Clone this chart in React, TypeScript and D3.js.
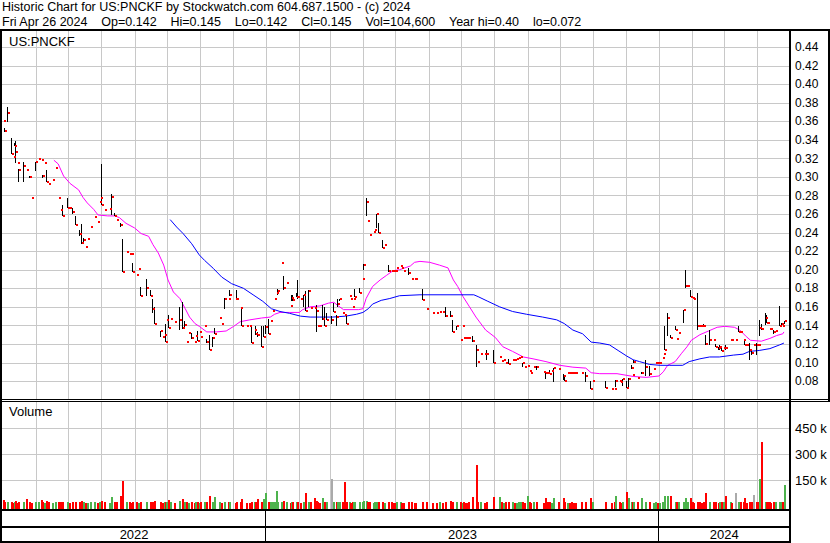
import * as React from "react";
import * as d3 from "d3";

const { useRef, useEffect } = React;

const titleLine = "Historic Chart for US:PNCKF by Stockwatch.com 604.687.1500 - (c) 2024";
const quoteLine = "Fri Apr 26 2024    Op=0.142    Hi=0.145    Lo=0.142    Cl=0.145    Vol=104,600    Year hi=0.40    lo=0.072";
const symbol = "US:PNCKF";
const priceTicks = [0.08, 0.1, 0.12, 0.14, 0.16, 0.18, 0.2, 0.22, 0.24, 0.26, 0.28, 0.3, 0.32, 0.34, 0.36, 0.38, 0.4, 0.42, 0.44];
const volumeTicks = [150000, 300000, 450000];
const volumeTickLabels = ["150 k", "300 k", "450 k"];
const years = ["2022", "2023", "2024"];

// date, high, low, close, volume (thousands)
const bars: [string, number, number, number, number][] = [
  ["2022-05-02", .360, .360, .360, 20], ["2022-05-03", .353, .348, .350, 6], ["2022-05-05", .375, .359, .369, 9],
  ["2022-05-09", .342, .325, .325, 5], ["2022-05-11", .321, .321, .321, 4], ["2022-05-12", .337, .333, .333, 8],
  ["2022-05-13", .339, .315, .327, 12], ["2022-05-15", .315, .315, .315, 3], ["2022-05-16", .309, .295, .308, 7],
  ["2022-05-20", .316, .294, .312, 10], ["2022-05-23", .308, .308, .308, 25], ["2022-05-26", .301, .299, .300, 6],
  ["2022-05-28", .277, .277, .277, 4], ["2022-05-31", .316, .306, .316, 9], ["2022-06-03", .319, .319, .319, 5],
  ["2022-06-06", .318, .318, .318, 20], ["2022-06-07", .302, .299, .301, 7], ["2022-06-09", .315, .315, .315, 4],
  ["2022-06-11", .308, .294, .294, 11], ["2022-06-13", .292, .292, .292, 5], ["2022-06-16", .297, .297, .297, 3],
  ["2022-06-19", .310, .310, .310, 6], ["2022-06-22", .277, .277, .277, 8], ["2022-06-24", .264, .264, .264, 5],
  ["2022-06-26", .270, .258, .258, 9], ["2022-06-30", .277, .267, .267, 7], ["2022-07-02", .266, .266, .266, 4],
  ["2022-07-05", .266, .260, .262, 6], ["2022-07-08", .258, .248, .248, 10], ["2022-07-11", .243, .236, .238, 5],
  ["2022-07-13", .249, .228, .229, 12], ["2022-07-15", .234, .230, .232, 6], ["2022-07-17", .224, .224, .224, 4],
  ["2022-07-19", .233, .233, .233, 3], ["2022-07-22", .246, .246, .246, 7], ["2022-07-25", .257, .257, .257, 5],
  ["2022-07-28", .251, .251, .251, 4], ["2022-07-30", .273, .273, .273, 6], ["2022-07-31", .277, .277, .277, 3],
  ["2022-08-01", .314, .270, .270, 11], ["2022-08-04", .264, .264, .264, 5], ["2022-08-08", .265, .265, .265, 4],
  ["2022-08-10", .282, .259, .278, 35], ["2022-08-13", .261, .258, .258, 6], ["2022-08-15", .254, .254, .254, 5],
  ["2022-08-18", .250, .246, .248, 45], ["2022-08-20", .233, .198, .198, 130], ["2022-08-24", .219, .219, .219, 8],
  ["2022-08-27", .217, .217, .217, 5], ["2022-08-29", .217, .217, .217, 4], ["2022-08-30", .207, .198, .198, 9],
  ["2022-09-02", .194, .194, .194, 6], ["2022-09-04", .201, .201, .201, 3], ["2022-09-06", .181, .172, .172, 7],
  ["2022-09-12", .190, .172, .180, 10], ["2022-09-15", .178, .172, .172, 5], ["2022-09-17", .168, .153, .158, 8],
  ["2022-09-19", .160, .142, .142, 12], ["2022-09-25", .134, .128, .134, 6], ["2022-09-26", .127, .127, .127, 4],
  ["2022-09-28", .130, .130, .130, 5], ["2022-09-29", .142, .122, .122, 9], ["2022-09-30", .146, .146, .146, 6],
  ["2022-10-02", .151, .137, .137, 20], ["2022-10-04", .147, .147, .147, 5], ["2022-10-08", .144, .144, .144, 4],
  ["2022-10-12", .160, .135, .146, 11], ["2022-10-15", .165, .136, .137, 22], ["2022-10-17", .145, .138, .140, 7],
  ["2022-10-19", .122, .122, .122, 5], ["2022-10-21", .132, .132, .132, 4], ["2022-10-23", .132, .125, .126, 8],
  ["2022-10-26", .122, .122, .122, 3], ["2022-10-27", .129, .129, .129, 6], ["2022-10-29", .134, .123, .123, 9],
  ["2022-10-31", .133, .133, .133, 4], ["2022-11-01", .127, .127, .127, 5], ["2022-11-04", .139, .139, .139, 7],
  ["2022-11-06", .125, .121, .122, 6], ["2022-11-09", .130, .114, .114, 40], ["2022-11-12", .128, .117, .126, 8],
  ["2022-11-14", .137, .131, .131, 35], ["2022-11-18", .148, .148, .148, 5], ["2022-11-20", .141, .141, .141, 4],
  ["2022-11-23", .170, .158, .169, 10], ["2022-11-27", .169, .169, .169, 6], ["2022-11-28", .178, .172, .173, 9],
  ["2022-12-03", .169, .169, .169, 4], ["2022-12-04", .178, .167, .169, 7], ["2022-12-08", .159, .159, .159, 5],
  ["2022-12-09", .159, .139, .139, 25], ["2022-12-13", .139, .139, .139, 4], ["2022-12-16", .139, .139, .139, 3],
  ["2022-12-18", .139, .121, .121, 8], ["2022-12-21", .135, .135, .135, 5], ["2022-12-22", .139, .130, .131, 6],
  ["2022-12-24", .133, .128, .130, 22], ["2022-12-27", .139, .117, .117, 9], ["2022-12-29", .139, .127, .127, 25],
  ["2022-12-31", .140, .131, .138, 60],
  ["2023-01-03", .147, .131, .131, 7], ["2023-01-05", .145, .145, .145, 5], ["2023-01-07", .155, .155, .155, 6],
  ["2023-01-08", .168, .168, .168, 9], ["2023-01-10", .175, .175, .175, 70], ["2023-01-11", .179, .173, .177, 8],
  ["2023-01-15", .207, .207, .207, 5], ["2023-01-17", .193, .178, .180, 12], ["2023-01-20", .186, .186, .186, 6],
  ["2023-01-23", .161, .161, .161, 4], ["2023-01-24", .173, .166, .170, 7], ["2023-01-25", .173, .166, .167, 5],
  ["2023-01-29", .175, .171, .171, 6], ["2023-01-30", .189, .169, .171, 10], ["2023-02-02", .168, .168, .168, 4],
  ["2023-02-04", .173, .160, .173, 8], ["2023-02-06", .177, .156, .156, 60], ["2023-02-09", .178, .160, .177, 9],
  ["2023-02-11", .159, .159, .159, 5], ["2023-02-15", .159, .159, .159, 30], ["2023-02-16", .162, .133, .155, 11],
  ["2023-02-17", .139, .139, .139, 6], ["2023-02-19", .139, .139, .139, 4], ["2023-02-22", .162, .146, .147, 30],
  ["2023-02-24", .160, .139, .139, 8], ["2023-02-26", .153, .146, .146, 5], ["2023-03-02", .150, .142, .146, 140],
  ["2023-03-04", .164, .154, .154, 9], ["2023-03-07", .151, .139, .149, 7], ["2023-03-08", .169, .160, .163, 10],
  ["2023-03-10", .169, .166, .169, 6], ["2023-03-13", .153, .153, .153, 5], ["2023-03-14", .151, .151, .151, 125],
  ["2023-03-16", .150, .141, .141, 8], ["2023-03-19", .172, .172, .172, 6], ["2023-03-20", .169, .169, .169, 4],
  ["2023-03-22", .160, .160, .160, 5], ["2023-03-23", .168, .168, .168, 7], ["2023-03-24", .179, .171, .171, 9],
  ["2023-03-28", .180, .175, .175, 6], ["2023-03-31", .190, .190, .190, 8], ["2023-04-01", .206, .200, .205, 12],
  ["2023-04-04", .277, .258, .273, 15], ["2023-04-05", .253, .253, .253, 7], ["2023-04-07", .237, .237, .237, 5],
  ["2023-04-10", .241, .241, .241, 4], ["2023-04-11", .243, .243, .243, 6], ["2023-04-13", .260, .245, .260, 9],
  ["2023-04-15", .250, .240, .240, 7], ["2023-04-19", .232, .223, .223, 8], ["2023-04-21", .227, .227, .227, 4],
  ["2023-04-24", .205, .198, .199, 10], ["2023-04-27", .199, .199, .199, 5], ["2023-04-29", .199, .199, .199, 3],
  ["2023-05-01", .199, .199, .199, 4], ["2023-05-02", .202, .202, .202, 6], ["2023-05-05", .204, .204, .204, 5],
  ["2023-05-06", .202, .202, .202, 3], ["2023-05-08", .199, .199, .199, 4], ["2023-05-13", .202, .194, .196, 7],
  ["2023-05-16", .190, .190, .190, 5], ["2023-05-18", .190, .190, .190, 3], ["2023-05-19", .190, .190, .190, 4],
  ["2023-05-26", .179, .167, .167, 8], ["2023-05-30", .158, .158, .158, 6], ["2023-06-04", .153, .153, .153, 4],
  ["2023-06-08", .153, .153, .153, 3], ["2023-06-11", .154, .154, .154, 5], ["2023-06-13", .154, .154, .154, 4],
  ["2023-06-16", .160, .149, .150, 7], ["2023-06-21", .155, .149, .150, 15], ["2023-06-23", .146, .133, .133, 9],
  ["2023-06-26", .139, .135, .139, 6], ["2023-06-30", .124, .124, .124, 5], ["2023-07-02", .139, .139, .139, 4],
  ["2023-07-03", .126, .126, .126, 6], ["2023-07-05", .126, .126, .126, 3], ["2023-07-06", .126, .126, .126, 4],
  ["2023-07-08", .126, .126, .126, 5], ["2023-07-11", .129, .122, .123, 35], ["2023-07-15", .119, .095, .113, 220],
  ["2023-07-16", .101, .101, .101, 8], ["2023-07-19", .109, .109, .109, 6], ["2023-07-22", .109, .109, .109, 4],
  ["2023-07-24", .113, .103, .109, 7], ["2023-07-31", .113, .100, .100, 35], ["2023-08-05", .106, .106, .106, 35],
  ["2023-08-07", .102, .102, .102, 5], ["2023-08-09", .103, .103, .103, 4], ["2023-08-11", .100, .100, .100, 6],
  ["2023-08-14", .104, .098, .098, 7], ["2023-08-17", .103, .103, .103, 5], ["2023-08-19", .103, .103, .103, 3],
  ["2023-08-21", .104, .104, .104, 4], ["2023-08-23", .105, .105, .105, 6], ["2023-08-25", .106, .106, .106, 5],
  ["2023-08-27", .100, .095, .100, 8], ["2023-08-29", .095, .095, .095, 4], ["2023-08-31", .096, .096, .096, 45],
  ["2023-09-02", .091, .091, .091, 6], ["2023-09-03", .089, .089, .089, 4], ["2023-09-06", .095, .095, .095, 5],
  ["2023-09-09", .096, .092, .095, 7], ["2023-09-15", .090, .090, .090, 4], ["2023-09-17", .089, .082, .089, 30],
  ["2023-09-19", .089, .089, .089, 5], ["2023-09-21", .092, .088, .088, 6], ["2023-09-23", .091, .091, .091, 4],
  ["2023-09-25", .094, .079, .094, 30], ["2023-09-29", .093, .093, .093, 5], ["2023-10-04", .088, .081, .085, 30],
  ["2023-10-05", .087, .080, .080, 6], ["2023-10-08", .089, .089, .089, 4], ["2023-10-09", .089, .089, .089, 3],
  ["2023-10-11", .089, .089, .089, 5], ["2023-10-13", .089, .089, .089, 4], ["2023-10-15", .089, .089, .089, 3],
  ["2023-10-21", .089, .089, .089, 6], ["2023-10-24", .090, .079, .085, 9], ["2023-10-29", .080, .072, .072, 30],
  ["2023-10-31", .080, .080, .080, 5], ["2023-11-12", .080, .073, .073, 7], ["2023-11-17", .072, .072, .072, 4],
  ["2023-11-20", .072, .072, .072, 5], ["2023-11-21", .081, .074, .080, 45], ["2023-11-25", .080, .080, .080, 6],
  ["2023-11-26", .079, .079, .079, 4], ["2023-11-28", .082, .075, .082, 8], ["2023-12-01", .080, .073, .073, 65],
  ["2023-12-03", .083, .073, .082, 30], ["2023-12-06", .097, .093, .094, 9], ["2023-12-07", .087, .087, .087, 5],
  ["2023-12-08", .103, .100, .101, 7], ["2023-12-12", .083, .083, .083, 6], ["2023-12-15", .090, .088, .089, 30],
  ["2023-12-19", .103, .085, .095, 8], ["2023-12-23", .096, .085, .088, 6], ["2023-12-26", .093, .093, .093, 4],
  ["2023-12-28", .099, .099, .099, 5], ["2023-12-30", .099, .099, .099, 3],
  ["2024-01-01", .100, .100, .100, 4], ["2024-01-04", .105, .105, .105, 6], ["2024-01-05", .109, .109, .109, 8],
  ["2024-01-06", .139, .113, .113, 45], ["2024-01-08", .153, .129, .148, 45], ["2024-01-11", .130, .126, .126, 45],
  ["2024-01-16", .139, .135, .135, 7], ["2024-01-17", .125, .125, .125, 5], ["2024-01-19", .132, .132, .132, 6],
  ["2024-01-23", .157, .143, .157, 9], ["2024-01-25", .200, .180, .182, 30], ["2024-01-27", .183, .183, .183, 5],
  ["2024-01-30", .178, .171, .171, 30], ["2024-02-01", .170, .170, .170, 6], ["2024-02-02", .171, .168, .168, 4],
  ["2024-02-05", .175, .135, .139, 10], ["2024-02-07", .139, .139, .139, 5], ["2024-02-09", .139, .139, .139, 4],
  ["2024-02-11", .141, .138, .139, 6], ["2024-02-13", .130, .119, .120, 60], ["2024-02-16", .135, .119, .124, 8],
  ["2024-02-20", .124, .124, .124, 5], ["2024-02-22", .120, .117, .117, 6], ["2024-02-25", .117, .114, .116, 4],
  ["2024-02-26", .119, .114, .117, 7], ["2024-02-28", .117, .112, .112, 5], ["2024-02-29", .116, .116, .116, 6],
  ["2024-03-02", .119, .114, .116, 45], ["2024-03-07", .124, .124, .124, 5], ["2024-03-08", .124, .124, .124, 4],
  ["2024-03-12", .124, .124, .124, 60], ["2024-03-14", .139, .133, .133, 8], ["2024-03-16", .133, .133, .133, 5],
  ["2024-03-19", .124, .124, .124, 6], ["2024-03-20", .124, .119, .119, 30], ["2024-03-22", .119, .119, .119, 4],
  ["2024-03-25", .121, .103, .114, 9], ["2024-03-26", .114, .108, .110, 7], ["2024-03-28", .119, .119, .119, 46],
  ["2024-03-31", .121, .108, .119, 8], ["2024-04-02", .119, .119, .119, 5], ["2024-04-03", .146, .129, .137, 140],
  ["2024-04-05", .142, .135, .136, 354], ["2024-04-08", .153, .140, .148, 9], ["2024-04-09", .151, .143, .143, 7],
  ["2024-04-10", .143, .143, .143, 5], ["2024-04-12", .136, .136, .136, 6], ["2024-04-13", .136, .136, .136, 4],
  ["2024-04-16", .135, .131, .133, 8], ["2024-04-18", .134, .134, .134, 5], ["2024-04-21", .161, .139, .139, 7],
  ["2024-04-23", .143, .139, .141, 6], ["2024-04-24", .139, .139, .139, 5], ["2024-04-26", .145, .142, .145, 104.6],
];

const unchangedDays = ["2023-03-02", "2024-03-28", "2024-03-12"];

// short moving average (magenta)
const maShort: [string, number][] = [
  ["2022-06-18", .318], ["2022-06-22", .314], ["2022-06-27", .301], ["2022-07-03", .293], ["2022-07-11", .286],
  ["2022-07-15", .278], ["2022-07-19", .272], ["2022-07-25", .265], ["2022-07-29", .259], ["2022-08-07", .258],
  ["2022-08-14", .258], ["2022-08-18", .256], ["2022-08-24", .250], ["2022-09-01", .245], ["2022-09-07", .239],
  ["2022-09-14", .236], ["2022-09-18", .227], ["2022-09-23", .218], ["2022-09-28", .205], ["2022-10-02", .189],
  ["2022-10-07", .176], ["2022-10-13", .169], ["2022-10-18", .158], ["2022-10-22", .149], ["2022-10-27", .142],
  ["2022-10-31", .139], ["2022-11-07", .133], ["2022-11-16", .133], ["2022-11-25", .134], ["2022-12-02", .139],
  ["2022-12-08", .144], ["2022-12-17", .146], ["2022-12-28", .148], ["2023-01-05", .149], ["2023-01-09", .152],
  ["2023-01-14", .154], ["2023-01-23", .154], ["2023-02-01", .154], ["2023-02-04", .157], ["2023-02-11", .160],
  ["2023-02-20", .161], ["2023-02-28", .164], ["2023-03-05", .165], ["2023-03-08", .162], ["2023-03-14", .157],
  ["2023-03-20", .157], ["2023-03-28", .157], ["2023-04-01", .158], ["2023-04-04", .169], ["2023-04-10", .182],
  ["2023-04-17", .189], ["2023-04-23", .194], ["2023-04-29", .199], ["2023-05-05", .200], ["2023-05-15", .204],
  ["2023-05-19", .208], ["2023-05-24", .209], ["2023-06-02", .208], ["2023-06-11", .205], ["2023-06-19", .202],
  ["2023-06-24", .189], ["2023-06-28", .182], ["2023-07-03", .171], ["2023-07-09", .160], ["2023-07-15", .149],
  ["2023-07-24", .135], ["2023-08-02", .127], ["2023-08-09", .117], ["2023-08-18", .112], ["2023-08-28", .106],
  ["2023-09-06", .104], ["2023-09-18", .101], ["2023-10-01", .097], ["2023-10-13", .095], ["2023-10-25", .094],
  ["2023-10-30", .089], ["2023-11-07", .088], ["2023-11-23", .088], ["2023-12-08", .085], ["2023-12-20", .084],
  ["2024-01-01", .0855], ["2024-01-05", .090], ["2024-01-09", .097], ["2024-01-16", .101], ["2024-01-22", .110],
  ["2024-01-27", .117], ["2024-01-31", .124], ["2024-02-08", .130], ["2024-02-16", .134], ["2024-02-24", .138],
  ["2024-03-02", .139], ["2024-03-11", .138], ["2024-03-16", .135], ["2024-03-22", .128], ["2024-03-26", .124],
  ["2024-04-05", .123], ["2024-04-13", .126], ["2024-04-19", .129], ["2024-04-25", .131], ["2024-04-26", .133],
];

// long moving average (blue)
const maLong: [string, number][] = [
  ["2022-10-04", .254], ["2022-10-10", .246], ["2022-10-16", .239], ["2022-10-24", .228], ["2022-10-31", .216],
  ["2022-11-05", .210], ["2022-11-13", .2015], ["2022-11-21", .192], ["2022-11-30", .185], ["2022-12-11", .180],
  ["2022-12-20", .173], ["2022-12-29", .166], ["2023-01-06", .158], ["2023-01-14", .155], ["2023-01-23", .153],
  ["2023-02-02", .150], ["2023-02-11", .149], ["2023-02-20", .149], ["2023-03-04", .149], ["2023-03-16", .150],
  ["2023-03-26", .152], ["2023-04-01", .154], ["2023-04-06", .158], ["2023-04-10", .163], ["2023-04-18", .167],
  ["2023-04-26", .169], ["2023-05-05", .172], ["2023-05-24", .173], ["2023-07-13", .173], ["2023-07-17", .171],
  ["2023-07-26", .166], ["2023-08-06", .160], ["2023-08-18", .155], ["2023-08-31", .152], ["2023-09-15", .149],
  ["2023-09-28", .146], ["2023-10-05", .142], ["2023-10-13", .135], ["2023-10-22", .131], ["2023-10-30", .122],
  ["2023-11-07", .121], ["2023-11-16", .119], ["2023-11-24", .113], ["2023-12-02", .107], ["2023-12-08", .103],
  ["2023-12-14", .101], ["2023-12-23", .098], ["2024-01-02", .097], ["2024-01-11", .097], ["2024-01-23", .097],
  ["2024-01-29", .101], ["2024-02-08", .104], ["2024-02-17", .106], ["2024-02-26", .106], ["2024-03-10", .108],
  ["2024-03-19", .109], ["2024-03-25", .112], ["2024-04-03", .113], ["2024-04-13", .115], ["2024-04-22", .119],
  ["2024-04-26", .121],
];

const FONT = "'Liberation Sans', Arial, sans-serif";
const RED = "#ff0000";
const GREEN = "#4db34d";
const GRAY = "#aaaaaa";
const GRID = "#c8c8c8";

export default function App() {
  const svgRef = useRef<SVGSVGElement>(null);

  useEffect(() => {
    const svg = d3.select(svgRef.current);
    svg.selectAll("*").remove();

    const W = 830, H = 543;
    const left = 2, right = 789;
    const priceTop = 31, priceBottom = 399;
    const volTop = 402, volBottom = 509;

    const parse = d3.timeParse("%Y-%m-%d");
    const x = d3.scaleTime()
      .domain([new Date(2022, 4, 1), new Date(2024, 4, 1)])
      .range([2.2, 789.3]);
    const yP = d3.scaleLinear().domain([0.08, 0.44]).range([381.1, 47]);
    const yV = d3.scaleLinear().domain([0, 450000]).range([506.3, 428.3]);
    const px = (d: string) => Math.round(x(parse(d) as Date));

    svg.append("rect").attr("width", W).attr("height", H).attr("fill", "#fff");

    // header
    const header = svg.append("g").attr("font-family", FONT).attr("font-size", 12.5).attr("fill", "#000");
    header.append("text").attr("x", 2).attr("y", 11).style("white-space", "pre").text(titleLine);
    header.append("text").attr("x", 2).attr("y", 26).style("white-space", "pre").text(quoteLine);

    // grid
    const grid = svg.append("g").attr("shape-rendering", "crispEdges").attr("stroke", GRID).attr("stroke-width", 1);
    const months = d3.timeMonth.range(new Date(2022, 5, 1), new Date(2024, 4, 1));
    grid.selectAll("line.vp").data(months).enter().append("line")
      .attr("x1", d => Math.round(x(d)) + 0.5).attr("x2", d => Math.round(x(d)) + 0.5)
      .attr("y1", priceTop).attr("y2", priceBottom);
    grid.selectAll("line.vv").data(months).enter().append("line")
      .attr("x1", d => Math.round(x(d)) + 0.5).attr("x2", d => Math.round(x(d)) + 0.5)
      .attr("y1", volTop).attr("y2", volBottom);
    grid.selectAll("line.hp").data(priceTicks).enter().append("line")
      .attr("x1", left).attr("x2", right)
      .attr("y1", d => Math.round(yP(d)) + 0.5).attr("y2", d => Math.round(yP(d)) + 0.5);
    grid.selectAll("line.hv").data(volumeTicks).enter().append("line")
      .attr("x1", left).attr("x2", right)
      .attr("y1", d => Math.round(yV(d)) + 0.5).attr("y2", d => Math.round(yV(d)) + 0.5);

    // moving averages
    const line = d3.line<[string, number]>()
      .x(d => x(parse(d[0]) as Date))
      .y(d => yP(d[1]));
    svg.append("path").datum(maShort).attr("d", line).attr("fill", "none")
      .attr("stroke", "#ff00ff").attr("stroke-width", 1);
    svg.append("path").datum(maLong).attr("d", line).attr("fill", "none")
      .attr("stroke", "#0000ff").attr("stroke-width", 1);

    // price bars
    const pb = svg.append("g").attr("shape-rendering", "crispEdges");
    pb.selectAll("rect.hl").data(bars.filter(d => d[1] > d[2])).enter().append("rect")
      .attr("x", d => px(d[0]))
      .attr("y", d => Math.round(yP(d[1])))
      .attr("width", 1)
      .attr("height", d => Math.max(1, Math.round(yP(d[2])) - Math.round(yP(d[1]))))
      .attr("fill", "#000");
    pb.selectAll("rect.cl").data(bars).enter().append("rect")
      .attr("x", d => px(d[0]) + 1)
      .attr("y", d => Math.round(yP(d[3])) - 1)
      .attr("width", 2).attr("height", 2)
      .attr("fill", RED);

    // volume bars
    const vb = svg.append("g").attr("shape-rendering", "crispEdges");
    vb.selectAll("rect").data(bars).enter().append("rect")
      .attr("x", d => px(d[0]))
      .attr("y", d => Math.round(yV(d[4] * 1000)) - 3)
      .attr("width", 2)
      .attr("height", d => volBottom - (Math.round(yV(d[4] * 1000)) - 3))
      .attr("fill", (d, i) => {
        if (unchangedDays.includes(d[0])) return GRAY;
        if (i > 0 && d[3] > bars[i - 1][3]) return GREEN;
        return RED;
      });

    // frame
    const frame = svg.append("g").attr("fill", "#000").attr("shape-rendering", "crispEdges");
    frame.append("rect").attr("x", 0).attr("y", 29).attr("width", W).attr("height", 2);
    frame.append("rect").attr("x", 0).attr("y", 29).attr("width", 2).attr("height", H - 29);
    frame.append("rect").attr("x", right).attr("y", 29).attr("width", 2).attr("height", H - 29);
    frame.append("rect").attr("x", W - 2).attr("y", 29).attr("width", 2).attr("height", volTop - 29);
    frame.append("rect").attr("x", 0).attr("y", priceBottom).attr("width", W).attr("height", 1);
    frame.append("rect").attr("x", 0).attr("y", priceBottom + 2).attr("width", W).attr("height", 1);
    frame.append("rect").attr("x", 0).attr("y", volBottom).attr("width", right + 2).attr("height", 2);
    frame.append("rect").attr("x", 0).attr("y", 526).attr("width", right + 2).attr("height", 2);
    frame.append("rect").attr("x", 0).attr("y", 541).attr("width", right + 2).attr("height", 2);
    const yearStarts = [new Date(2023, 0, 1), new Date(2024, 0, 1)];
    frame.selectAll("rect.ys").data(yearStarts).enter().append("rect")
      .attr("x", d => Math.round(x(d)) - 1).attr("y", volBottom + 2)
      .attr("width", 1).attr("height", 541 - volBottom - 2);

    // labels
    const labels = svg.append("g").attr("font-family", FONT).attr("fill", "#000");
    labels.append("text").attr("x", 9).attr("y", 45.5).attr("font-size", 13).text(symbol);
    labels.append("text").attr("x", 9).attr("y", 416).attr("font-size", 13).text("Volume");
    labels.selectAll("text.pt").data(priceTicks).enter().append("text")
      .attr("x", 795).attr("y", d => yP(d)).attr("dy", "0.35em").attr("font-size", 12)
      .text(d => d.toFixed(2));
    labels.selectAll("text.vt").data(volumeTicks).enter().append("text")
      .attr("x", 795).attr("y", d => yV(d)).attr("dy", "0.35em").attr("font-size", 13)
      .text((d, i) => volumeTickLabels[i]);
    const yearBounds = [new Date(2022, 4, 1), ...yearStarts, new Date(2024, 4, 1)];
    labels.selectAll("text.yr").data(years).enter().append("text")
      .attr("x", (d, i) => (x(yearBounds[i]) + x(yearBounds[i + 1])) / 2)
      .attr("y", 539).attr("text-anchor", "middle").attr("font-size", 13)
      .text(d => d);
  }, []);

  return (
    <svg ref={svgRef} width={830} height={543}
      style={{ position: "absolute", left: 0, top: 0, display: "block" }}>
    </svg>
  );
}
